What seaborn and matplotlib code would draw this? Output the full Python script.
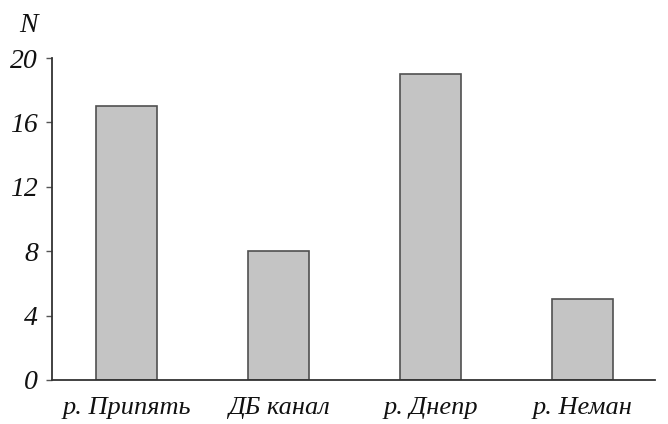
import matplotlib
matplotlib.use("Agg")
import matplotlib.pyplot as plt
import seaborn as sns
import pandas as pd

categories = ["р. Припять", "ДБ канал", "р. Днепр", "р. Неман"]
values = [17, 8, 19, 5]
yticks = [0, 4, 8, 12, 16, 20]

sns.set_theme(style="white")
plt.rcParams['font.family'] = ['Liberation Serif', 'DejaVu Serif']
plt.rcParams['font.style'] = 'italic'

df = pd.DataFrame({"cat": categories, "val": values})

fig = plt.figure(figsize=(6.68, 4.24), dpi=100)
ax = fig.add_axes([0.078, 0.104, 0.903, 0.759])
sns.barplot(data=df, x="cat", y="val", ax=ax, color="#c4c4c4", saturation=1,
            width=0.4, edgecolor="#505050", linewidth=1.2)
ax.set_xlim(-0.49, 3.48)
ax.set_ylim(0, 20)
ax.set_yticks(yticks)
ax.set_yticklabels([str(t) for t in yticks], fontsize=20, style='italic')
ax.set_xticks(range(len(categories)))
ax.set_xticklabels(categories, fontsize=19, style='italic')
ax.set_xlabel("")
ax.set_ylabel("")
for s in ["top", "right"]:
    ax.spines[s].set_visible(False)
for s in ["left", "bottom"]:
    ax.spines[s].set_color("#333333")
    ax.spines[s].set_linewidth(1.3)
ax.tick_params(axis='y', left=True, length=4, width=1, color="#555555", pad=6, colors="#111111")
ax.tick_params(axis='x', bottom=False, pad=6, colors="#111111")
fig.text(0.042, 0.94, "N", fontsize=20, style='italic', color="#111111", ha='center', va='center')
fig.savefig("out.png", dpi=100, facecolor="white")
